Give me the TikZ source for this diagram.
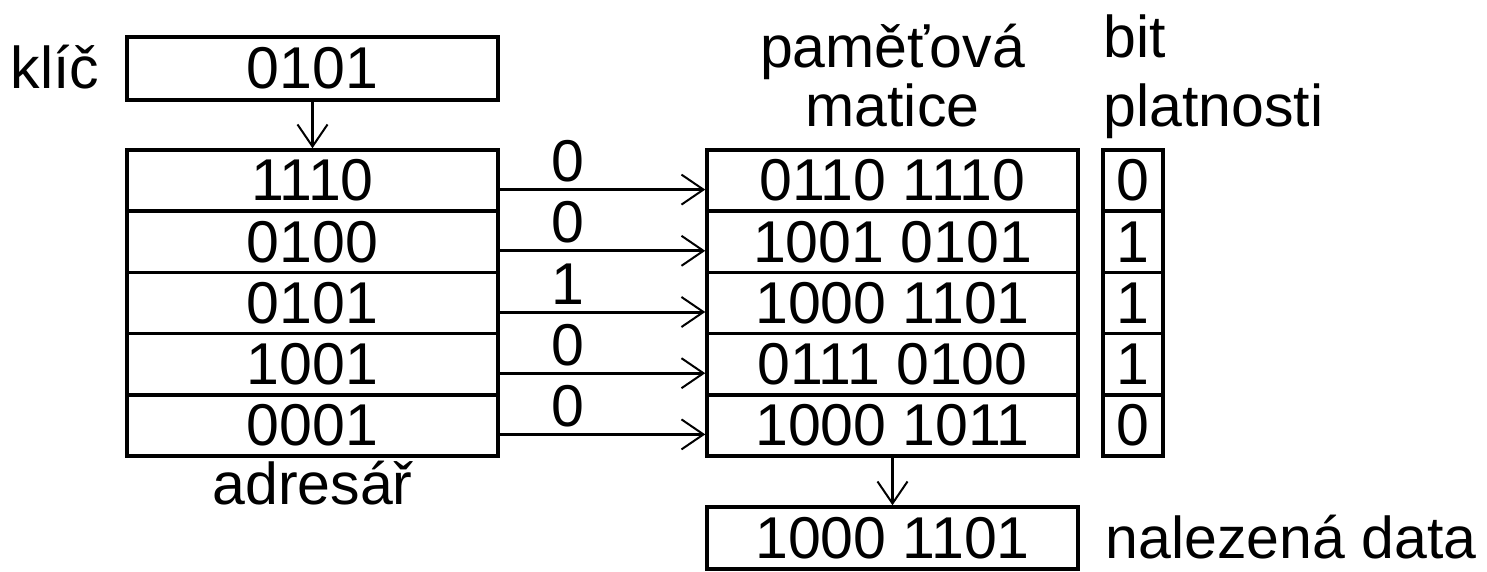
\documentclass[tikz,border=0pt]{standalone}
\usepackage{fontspec}
\setmainfont{Liberation Sans}
\usepackage{tikz}
\usetikzlibrary{arrows.meta}
\newcommand{\cellFont}{\fontsize{59}{59}\selectfont}
\tikzstyle{diagram} = [x = 1pt, y = -1pt, every node/.style={font = \cellFont}]
\tikzstyle{cellStyle} = [draw, line width = 3.5pt, inner sep = 0pt, minimum height = 61.2pt]
\tikzstyle{wideCell} = [cellStyle, minimum width = 371pt]
\tikzstyle{bitCell} = [cellStyle, minimum width = 60pt]
\tikzstyle{captionText} = [inner sep = 0pt]
\tikzstyle{linkArrow} = [line width = 3pt, -{Straight Barb[length = 22pt, width = 30pt, line width = 2pt]}]
\newcommand{\rowHeight}{61.2}
\newcommand{\memoryRow}[5]{
  \pgfmathsetmacro{\rowY}{150 + \rowHeight * (#1 - 0.5)}
  \node [wideCell] (dir#1) at (312.5, \rowY) {#2};
  \node [wideCell] (mat#1) at (892.5, \rowY) {#3};
  \node [bitCell] (bit#1) at (1133, \rowY) {#4};
  \draw [linkArrow] ([yshift = -9pt] dir#1.east) -- node [captionText, pos = .33, above = 6pt] (tag#1) {#5} ([yshift = -9pt] mat#1.west);
}

\begin{document}
\begin{tikzpicture}[diagram]
  \useasboundingbox (0, 0) rectangle (1487, 572);
  \node [wideCell, minimum height = 63pt] (key) at (312.5, 68.5) {0101};
  \node [captionText, anchor = base east] (keyLabel) at ([xshift = -26pt] key.base west) {klíč};

  \memoryRow{1}{1110}{0110 1110}{0}{0}
  \memoryRow{2}{0100}{1001 0101}{1}{0}
  \memoryRow{3}{0101}{1000 1101}{1}{1}
  \memoryRow{4}{1001}{0111 0100}{1}{0}
  \memoryRow{5}{0001}{1000 1011}{0}{0}

  \draw [linkArrow] (key.south) -- (dir1.north);
  \node [captionText, anchor = base] (dirLabel) at ([yshift = -47pt] dir5.south) {adresář};
  \node [captionText, anchor = south, align = center] (matLabel) at ([yshift = 21pt] mat1.north) {paměťová\\matice};
  \node [captionText, anchor = south west, align = left] (bitLabel) at ([xshift = 2pt, yshift = 9pt] bit1.north west) {bit\\[10pt]platnosti};

  \node [wideCell, minimum height = 62pt] (res) at (892.5, 538) {1000 1101};
  \draw [linkArrow] (mat5.south) -- (res.north);
  \node [captionText, anchor = base west] (resLabel) at ([xshift = 26pt] res.base east) {nalezená data};
\end{tikzpicture}
\end{document}
